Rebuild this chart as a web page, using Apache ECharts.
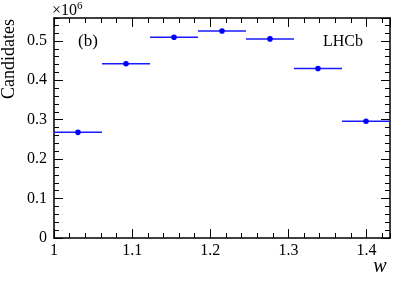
<!DOCTYPE html>
<html>
<head>
<meta charset="utf-8">
<script src="https://cdn.jsdelivr.net/npm/echarts@6/dist/echarts.min.js"></script>
<style>
html,body{margin:0;padding:0;background:#fff;}
#chart{width:415px;height:283px;}
</style>
</head>
<body>
<div id="chart"></div>
<script>
// Bin edges of w (7 bins)
var binLow  = [1.0000, 1.0614, 1.1229, 1.1843, 1.2457, 1.3071, 1.3686];
var binHigh = [1.0614, 1.1229, 1.1843, 1.2457, 1.3071, 1.3686, 1.4300];
// Candidates per bin (units of 10^6)
var candidates = [0.268, 0.442, 0.509, 0.525, 0.505, 0.430, 0.296];
var candErr    = [0.004, 0.004, 0.004, 0.004, 0.004, 0.004, 0.004];
var xTickLabels = ['1', '1.1', '1.2', '1.3', '1.4'];
var yTickLabels = ['0', '0.1', '0.2', '0.3', '0.4', '0.5'];

var FONT = 'Liberation Serif';
var X_MIN = 1, X_MAX = 1.43, Y_MIN = 0, Y_MAX = 0.558;

var data = candidates.map(function (v, i) {
  return [binLow[i], binHigh[i], v, (binLow[i] + binHigh[i]) / 2, candErr[i]];
});

function xAxisDef(pos, interval, tickLen, showLabel, showLine) {
  return {
    type: 'value', position: pos, min: X_MIN, max: X_MAX, interval: interval,
    axisLine: {show: showLine, onZero: false, lineStyle: {color: '#000', width: 1.5}},
    axisTick: {show: true, inside: true, length: tickLen, lineStyle: {color: '#000', width: 1}},
    axisLabel: {
      show: showLabel, margin: 5, color: '#000', fontFamily: FONT, fontSize: 16,
      showMaxLabel: false,
      formatter: function (v) {
        var s = String(+v.toFixed(2));
        return xTickLabels.indexOf(s) >= 0 ? s : '';
      }
    },
    splitLine: {show: false}
  };
}
function yAxisDef(pos, interval, tickLen, showLabel, showLine) {
  return {
    type: 'value', position: pos, min: Y_MIN, max: Y_MAX, interval: interval,
    axisLine: {show: showLine, onZero: false, lineStyle: {color: '#000', width: 1.5}},
    axisTick: {show: true, inside: true, length: tickLen, lineStyle: {color: '#000', width: 1}},
    axisLabel: {
      show: showLabel, margin: 7, color: '#000', fontFamily: FONT, fontSize: 16,
      showMaxLabel: false,
      formatter: function (v) {
        var s = String(+v.toFixed(2));
        return yTickLabels.indexOf(s) >= 0 ? s : '';
      }
    },
    splitLine: {show: false}
  };
}

var chart = echarts.init(document.getElementById('chart'), null, {renderer: 'canvas'});
chart.setOption({
  animation: false,
  backgroundColor: '#fff',
  grid: {left: 54, top: 18, right: 25, bottom: 45},
  xAxis: [
    xAxisDef('bottom', 0.1, 9, true, true),
    xAxisDef('bottom', 0.02, 5, false, false),
    xAxisDef('top', 0.1, 9, false, true),
    xAxisDef('top', 0.02, 5, false, false)
  ],
  yAxis: [
    yAxisDef('left', 0.1, 9, true, true),
    yAxisDef('left', 0.02, 5, false, false),
    yAxisDef('right', 0.1, 9, false, true),
    yAxisDef('right', 0.02, 5, false, false)
  ],
  series: [{
    type: 'custom',
    xAxisIndex: 0, yAxisIndex: 0,
    data: data,
    renderItem: function (params, api) {
      var lo = api.coord([api.value(0), api.value(2)]);
      var hi = api.coord([api.value(1), api.value(2)]);
      var c = api.coord([api.value(3), api.value(2)]);
      var up = api.coord([api.value(3), api.value(2) + api.value(4)]);
      var dn = api.coord([api.value(3), api.value(2) - api.value(4)]);
      return {
        type: 'group',
        children: [
          {type: 'line', shape: {x1: lo[0], y1: lo[1], x2: hi[0], y2: hi[1]}, style: {stroke: '#1a1aff', lineWidth: 1.5}},
          {type: 'line', shape: {x1: up[0], y1: up[1], x2: dn[0], y2: dn[1]}, style: {stroke: '#0000ff', lineWidth: 2}},
          {type: 'circle', shape: {cx: c[0], cy: c[1], r: 2.8}, style: {fill: '#0000ff'}}
        ]
      };
    }
  }],
  graphic: [
    {type: 'text', x: 9, y: 59, rotation: Math.PI / 2,
     style: {text: 'Candidates', font: '18px "Liberation Serif"', fill: '#000', align: 'center', verticalAlign: 'middle'}},
    {type: 'text', x: 52, y: 1,
     style: {text: '×10{s|6}', font: '16px "Liberation Serif"', fill: '#000', align: 'left', verticalAlign: 'top',
             rich: {s: {fontSize: 11, fontFamily: FONT, verticalAlign: 'top', padding: [0, 0, 8, 0]}}}},
    {type: 'text', x: 88, y: 42,
     style: {text: '(b)', font: '17px "Liberation Serif"', fill: '#000', align: 'center', verticalAlign: 'middle'}},
    {type: 'text', x: 343, y: 42,
     style: {text: 'LHCb', font: '16px "Liberation Serif"', fill: '#000', align: 'center', verticalAlign: 'middle'}},
    {type: 'text', x: 380, y: 267,
     style: {text: 'w', font: 'italic 20px "Liberation Serif"', fill: '#000', align: 'center', verticalAlign: 'middle'}}
  ]
});
</script>
</body>
</html>
